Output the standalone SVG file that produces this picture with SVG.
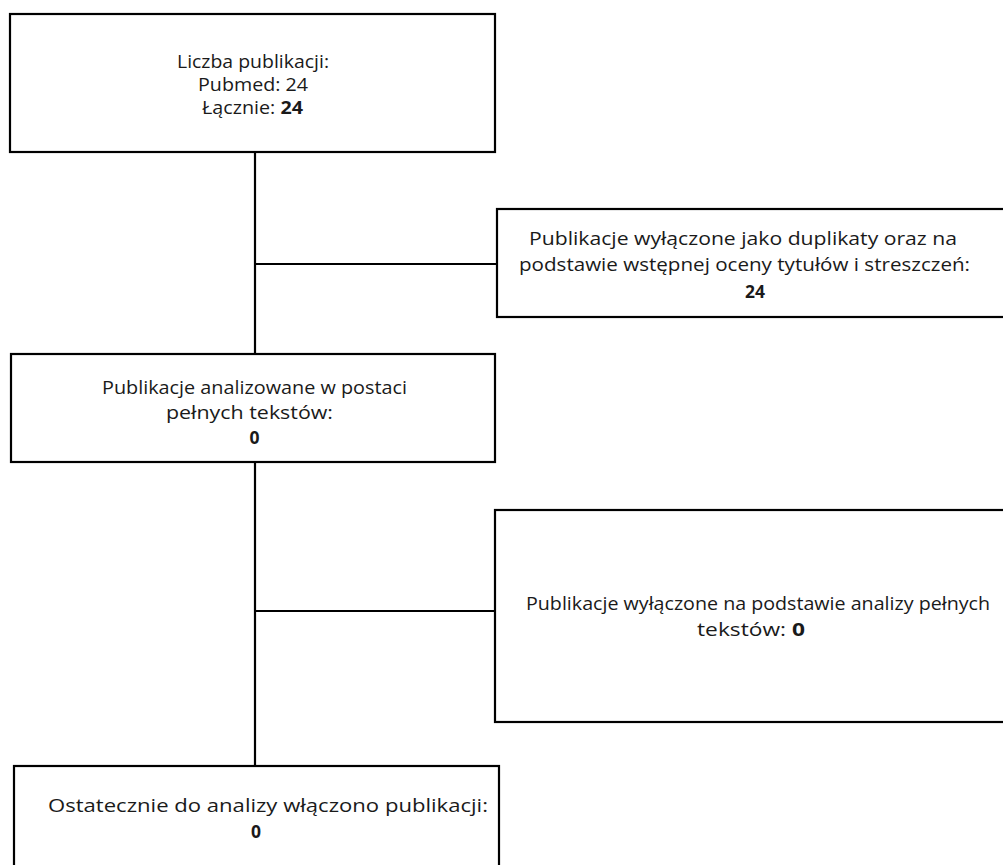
<svg xmlns="http://www.w3.org/2000/svg" width="1003" height="865" viewBox="0 0 1003 865">
<style>
.box{fill:#fff;stroke:#000;stroke-width:2.2}
.conn{stroke:#000;stroke-width:2.2;fill:none}
text{font-family:"Open Sans","Noto Sans",sans-serif;font-size:17.5px;fill:#1a1a1a;text-anchor:middle}
.b{font-weight:bold}
</style>
<rect width="1003" height="865" fill="#fff"/>
<g id="connectors">
<path class="conn" d="M255,152 V354"/>
<path class="conn" d="M255,264 H497"/>
<path class="conn" d="M255,462 V766"/>
<path class="conn" d="M255,611 H495"/>
</g>
<g id="n1">
<rect class="box" x="10" y="14" width="485" height="138"/>
<text x="253" y="68" textLength="152" lengthAdjust="spacingAndGlyphs">Liczba publikacji:</text>
<text x="253" y="91" textLength="110" lengthAdjust="spacingAndGlyphs">Pubmed: 24</text>
<text x="252.5" y="114" textLength="101" lengthAdjust="spacingAndGlyphs">Łącznie: <tspan class="b">24</tspan></text>
</g>
<g id="n2">
<rect class="box" x="497" y="209" width="510" height="108"/>
<text x="743" y="245" textLength="428" lengthAdjust="spacingAndGlyphs">Publikacje wyłączone jako duplikaty oraz na</text>
<text x="744.5" y="271" textLength="451" lengthAdjust="spacingAndGlyphs">podstawie wstępnej oceny tytułów i streszczeń:</text>
<text class="b" x="755" y="298" textLength="20" lengthAdjust="spacingAndGlyphs">24</text>
</g>
<g id="n3">
<rect class="box" x="11" y="354" width="484" height="108"/>
<text x="254.5" y="394" textLength="305" lengthAdjust="spacingAndGlyphs">Publikacje analizowane w postaci</text>
<text x="249.5" y="419" textLength="167" lengthAdjust="spacingAndGlyphs">pełnych tekstów:</text>
<text class="b" x="254.5" y="444">0</text>
</g>
<g id="n4">
<rect class="box" x="495" y="510" width="512" height="212"/>
<text x="758" y="610" textLength="464" lengthAdjust="spacingAndGlyphs">Publikacje wyłączone na podstawie analizy pełnych</text>
<text x="751" y="636" textLength="108" lengthAdjust="spacingAndGlyphs">tekstów: <tspan class="b">0</tspan></text>
</g>
<g id="n5">
<rect class="box" x="14" y="766" width="485" height="110"/>
<text x="268" y="812" textLength="440" lengthAdjust="spacingAndGlyphs">Ostatecznie do analizy włączono publikacji:</text>
<text class="b" x="256" y="838">0</text>
</g>
</svg>
